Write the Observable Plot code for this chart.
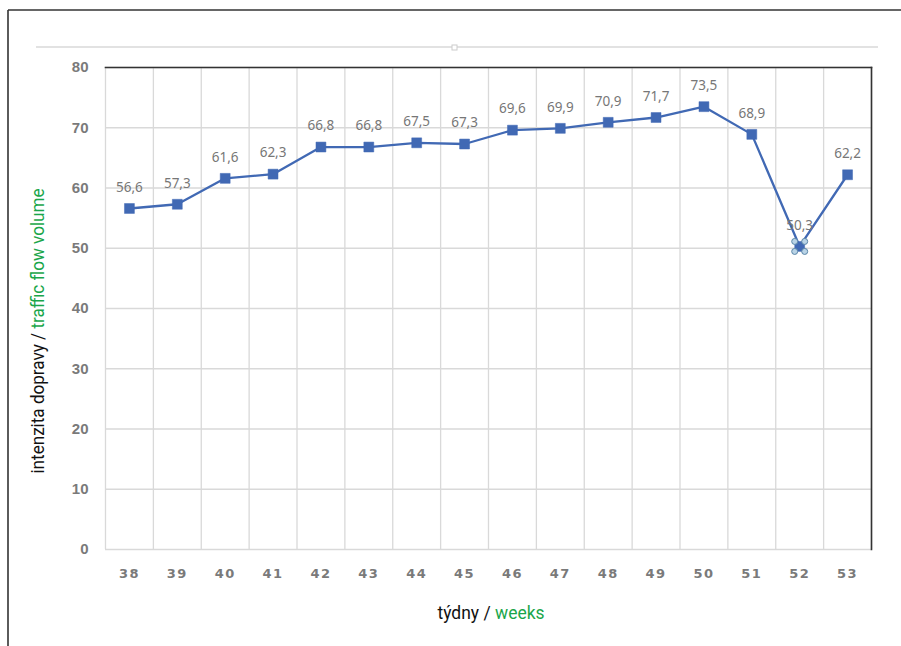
<!DOCTYPE html>
<html>
<head>
<meta charset="utf-8">
<script src="https://cdn.jsdelivr.net/npm/d3@7"></script>
<script src="https://cdn.jsdelivr.net/npm/@observablehq/plot@0.6"></script>
<style>
  html, body { margin: 0; padding: 0; background: #fff; }
  #chart svg { display: block; }
</style>
</head>
<body>
<div id="chart"></div>
<script>
// Weekly traffic flow volume, weeks 38–53
const weeks = [38, 39, 40, 41, 42, 43, 44, 45, 46, 47, 48, 49, 50, 51, 52, 53];
const volume = [56.6, 57.3, 61.6, 62.3, 66.8, 66.8, 67.5, 67.3, 69.6, 69.9, 70.9, 71.7, 73.5, 68.9, 50.3, 62.2];
const yTicks = [0, 10, 20, 30, 40, 50, 60, 70, 80];
const selectedWeek = 52;

const data = weeks.map((w, i) => ({week: w, value: volume[i], label: String(volume[i]).replace(".", ",")}));
const selected = data.filter(d => d.week === selectedWeek);
const bandEdges = d3.range(weeks[0] - 0.5, weeks[weeks.length - 1] + 1, 1);

const W = 901, H = 646;
const blue = "#4169b4";
const grid = "#d9d9d9";
const tickGray = "#7a7a7a";

const chart = Plot.plot({
  width: W,
  height: H,
  marginLeft: 105,
  marginRight: 30,
  marginTop: 67,
  marginBottom: 97,
  style: {background: "#fff", overflow: "visible"},
  x: {domain: [weeks[0] - 0.5, weeks[weeks.length - 1] + 0.5], ticks: weeks, tickSize: 0, tickPadding: 19, tickFormat: d => String(d), label: null},
  y: {domain: [0, 80], ticks: yTicks, tickSize: 0, tickPadding: 17, label: null},
  marks: [
    Plot.gridY(yTicks, {stroke: grid, strokeOpacity: 1, strokeWidth: 1.3}),
    Plot.ruleX(bandEdges, {stroke: grid, strokeWidth: 1.3}),
    Plot.axisX({ticks: weeks, tickSize: 0, tickPadding: 19, fill: tickGray, fontSize: 13, fontWeight: "bold", fontFamily: "DejaVu Sans, sans-serif", tickFormat: d => String(d)}),
    Plot.axisY({ticks: yTicks, tickSize: 0, tickPadding: 17, fill: tickGray, fontSize: 15, fontWeight: "bold", fontFamily: "Liberation Sans, Arial, sans-serif"}),
    // plot frame: dark top and right edges
    Plot.frame({anchor: "top", stroke: "#333", strokeWidth: 1.6}),
    Plot.frame({anchor: "right", stroke: "#333", strokeWidth: 1.6}),
    Plot.line(data, {x: "week", y: "value", stroke: blue, strokeWidth: 2.3}),
    Plot.dot(data, {x: "week", y: "value", symbol: "square", r: 5.6, fill: blue, stroke: blue, strokeWidth: 0.5}),
    // selection handles around the highlighted point
    ...[[-5, -5], [5, -5], [-5, 5], [5, 5]].map(([dx, dy]) =>
      Plot.dot(selected, {x: "week", y: "value", dx, dy, r: 3, fill: "#b9d3e6", stroke: "#5b86a8", strokeWidth: 1})),
    Plot.text(data, {x: "week", y: "value", text: "label", dy: -21, fill: "#777", fontSize: 13.5, fontFamily: "Noto Sans, Open Sans, sans-serif"})
  ]
});

const svg = d3.select(chart);
svg.selectAll("[aria-label='x-axis tick label'] text").attr("letter-spacing", "1.5px");
// outer frame on the left and top
svg.append("line").attr("x1", 8).attr("y1", 10).attr("x2", 8).attr("y2", H).attr("stroke", "#333").attr("stroke-width", 1.6);
svg.append("line").attr("x1", 8).attr("y1", 10).attr("x2", W).attr("y2", 10).attr("stroke", "#333").attr("stroke-width", 1.6);
// thin separator above the plot area
svg.append("line").attr("x1", 36).attr("y1", 47).attr("x2", 878).attr("y2", 47).attr("stroke", grid).attr("stroke-width", 1.3);
svg.append("rect").attr("x", 452).attr("y", 45).attr("width", 5).attr("height", 5).attr("fill", "#fff").attr("stroke", "#ccc").attr("stroke-width", 1);

// axis titles (Czech / English), horizontally condensed
const titleFont = "Liberation Sans Narrow, Arial Narrow, Roboto, sans-serif";
const yt = svg.append("text")
  .attr("transform", "translate(44,331) rotate(-90) scale(0.9,1)")
  .attr("text-anchor", "middle")
  .attr("font-family", titleFont)
  .attr("font-size", 19);
yt.append("tspan").attr("fill", "#111").text("intenzita dopravy / ");
yt.append("tspan").attr("fill", "#1aa64a").text("traffic flow volume");

const xt = svg.append("text")
  .attr("transform", "translate(491,619) scale(0.92,1)")
  .attr("text-anchor", "middle")
  .attr("font-family", titleFont)
  .attr("font-size", 19);
xt.append("tspan").attr("fill", "#111").text("týdny / ");
xt.append("tspan").attr("fill", "#1aa64a").text("weeks");

document.getElementById("chart").appendChild(chart);
</script>
</body>
</html>
